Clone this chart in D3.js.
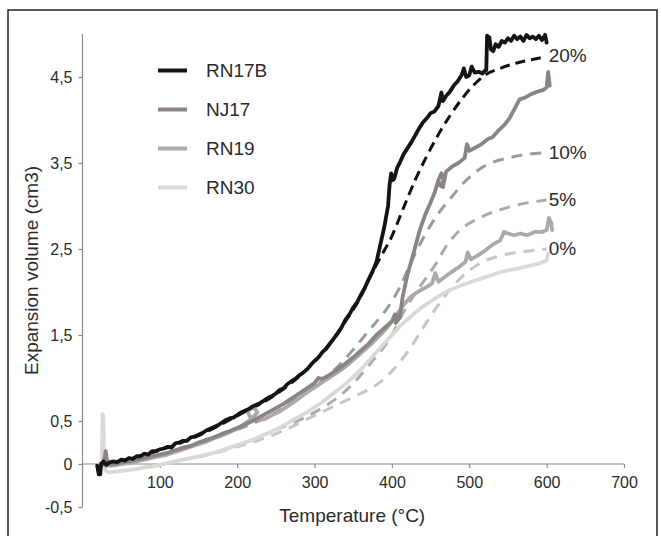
<!DOCTYPE html>
<html>
<head>
<meta charset="utf-8">
<script src="https://cdn.jsdelivr.net/npm/d3@7"></script>
<style>
  html, body { margin: 0; padding: 0; background: #fff; }
  svg { display: block; }
  text { font-family: "Liberation Sans", Arial, sans-serif; fill: #2b2b2b; }
</style>
</head>
<body>
<svg id="chart" width="661" height="536"></svg>
<script>
// ---------- DATA ----------
const seriesNames = ["RN17B", "NJ17", "RN19", "RN30"];
const seriesColors = ["#141414", "#8c8482", "#aea8a6", "#dcd8d4"];

const rn17b = [[19,-0.02],[21,-0.12],[23,-0.12],[24,0.0],[27,0.03],[31,-0.01],[35,0.02],[40,0.03],[45,0.02],[50,0.05],[55,0.04],[60,0.07],[65,0.06],[70,0.09],[75,0.09],[80,0.12],[85,0.11],[90,0.15],[95,0.15],[100,0.17],[105,0.18],[110,0.2],[115,0.19],[120,0.24],[125,0.25],[130,0.27],[135,0.27],[140,0.31],[145,0.32],[150,0.34],[155,0.36],[160,0.39],[165,0.41],[170,0.43],[175,0.45],[180,0.48],[185,0.51],[190,0.53],[195,0.54],[200,0.57],[205,0.6],[210,0.62],[215,0.64],[220,0.67],[225,0.69],[230,0.71],[235,0.74],[240,0.77],[245,0.79],[250,0.82],[255,0.86],[260,0.88],[265,0.93],[270,0.96],[275,0.99],[280,1.03],[285,1.06],[290,1.1],[295,1.15],[300,1.2],[305,1.24],[310,1.3],[315,1.34],[320,1.4],[325,1.46],[330,1.52],[335,1.59],[340,1.68],[345,1.74],[350,1.82],[355,1.88],[360,1.97],[365,2.05],[370,2.15],[375,2.24],[380,2.35],[385,2.55],[390,2.75],[395,3.0],[397,3.25],[399,3.38],[401,3.3],[403,3.32],[407,3.45],[410,3.5],[415,3.6],[420,3.67],[425,3.74],[430,3.82],[435,3.9],[440,3.97],[445,4.02],[450,4.08],[455,4.1],[460,4.16],[464,4.32],[466,4.22],[470,4.28],[475,4.33],[480,4.4],[485,4.45],[490,4.52],[493,4.6],[496,4.5],[500,4.52],[503,4.62],[507,4.55],[512,4.56],[517,4.54],[521,4.58],[522,4.58],[523,4.98],[526,4.96],[528,4.82],[531,4.8],[534,4.88],[538,4.85],[542,4.92],[546,4.9],[550,4.95],[554,4.92],[558,4.98],[562,4.94],[566,4.97],[570,4.92],[574,4.99],[578,4.95],[582,4.97],[586,4.94],[590,4.98],[594,4.93],[598,4.99],[600,4.9]];

const nj17 = [[27,0.0],[30,0.15],[32,0.02],[36,0.0],[40,0.0],[50,0.02],[60,0.03],[70,0.05],[80,0.07],[90,0.09],[100,0.11],[110,0.13],[120,0.16],[130,0.19],[140,0.21],[150,0.25],[160,0.28],[170,0.31],[180,0.35],[190,0.38],[200,0.42],[210,0.46],[220,0.5],[230,0.55],[240,0.6],[250,0.65],[260,0.7],[270,0.76],[280,0.82],[290,0.88],[300,0.94],[305,1.0],[310,0.99],[320,1.04],[330,1.1],[340,1.17],[350,1.24],[360,1.32],[370,1.4],[380,1.5],[390,1.58],[400,1.66],[404,1.74],[408,1.72],[405,1.64],[410,1.7],[414,1.95],[420,2.2],[427,2.42],[436,2.72],[443,2.9],[449,3.02],[455,3.15],[460,3.3],[464,3.38],[467,3.3],[462,3.24],[466,3.22],[470,3.4],[478,3.46],[486,3.5],[494,3.56],[497,3.72],[500,3.64],[508,3.68],[516,3.72],[524,3.78],[530,3.8],[538,3.88],[546,3.95],[552,4.02],[558,4.12],[565,4.24],[572,4.26],[580,4.3],[588,4.33],[596,4.35],[600,4.38],[602,4.56],[604,4.4]];

const rn19 = [[24,0.0],[30,-0.02],[40,-0.02],[50,0.0],[60,0.01],[70,0.03],[80,0.05],[90,0.07],[100,0.09],[110,0.11],[120,0.14],[130,0.17],[140,0.2],[150,0.23],[160,0.26],[170,0.3],[180,0.33],[190,0.37],[200,0.41],[210,0.47],[218,0.52],[226,0.6],[222,0.66],[213,0.62],[217,0.54],[226,0.52],[235,0.52],[245,0.57],[255,0.61],[265,0.67],[275,0.73],[285,0.8],[295,0.86],[305,0.92],[315,0.98],[325,1.04],[335,1.1],[345,1.17],[355,1.25],[365,1.33],[375,1.41],[385,1.5],[395,1.6],[405,1.72],[415,1.85],[425,1.95],[435,2.01],[445,2.06],[452,2.1],[456,2.22],[460,2.12],[466,2.16],[475,2.22],[485,2.28],[495,2.35],[498,2.46],[502,2.38],[510,2.42],[520,2.48],[530,2.55],[540,2.6],[545,2.7],[550,2.68],[558,2.66],[566,2.68],[575,2.66],[585,2.7],[595,2.7],[600,2.72],[603,2.86],[606,2.8],[607,2.72]];

const rn30 = [[22,0.0],[25,0.05],[26,0.58],[27,0.56],[28,0.0],[30,-0.08],[35,-0.1],[40,-0.09],[50,-0.08],[60,-0.07],[70,-0.06],[80,-0.04],[90,-0.03],[100,-0.01],[110,0.01],[120,0.03],[130,0.05],[140,0.07],[150,0.09],[160,0.11],[170,0.13],[180,0.16],[190,0.19],[200,0.22],[210,0.25],[220,0.28],[230,0.32],[240,0.36],[250,0.4],[260,0.45],[270,0.5],[280,0.55],[290,0.6],[300,0.66],[310,0.72],[320,0.79],[330,0.86],[340,0.93],[350,1.01],[360,1.1],[370,1.2],[380,1.3],[390,1.4],[400,1.5],[410,1.6],[420,1.68],[430,1.76],[440,1.83],[450,1.89],[460,1.95],[470,2.0],[480,2.04],[490,2.08],[500,2.11],[510,2.14],[520,2.17],[530,2.2],[540,2.23],[550,2.25],[560,2.27],[570,2.29],[580,2.31],[590,2.33],[600,2.37],[602,2.45]];

const modelNames = ["20%", "10%", "5%", "0%"];
const modelColors = ["#111111", "#9a9a9a", "#ababab", "#c6c6c6"];
const model20 = [[25,0.0],[50,0.04],[100,0.16],[150,0.33],[200,0.56],[250,0.81],[300,1.19],[340,1.66],[360,1.95],[372,2.18],[385,2.4],[400,2.65],[415,2.98],[430,3.3],[445,3.58],[460,3.83],[475,4.05],[490,4.24],[505,4.4],[520,4.52],[540,4.6],[560,4.66],[580,4.7],[600,4.74]];
const model10 = [[200,0.4],[250,0.6],[280,0.78],[300,0.9],[332,1.15],[350,1.33],[371,1.56],[393,1.8],[410,2.05],[425,2.35],[440,2.62],[459,2.9],[475,3.08],[496,3.3],[517,3.45],[556,3.57],[600,3.62]];
const model5 = [[250,0.4],[300,0.6],[340,0.85],[375,1.2],[400,1.5],[414,1.75],[436,2.06],[457,2.33],[470,2.53],[488,2.72],[513,2.86],[552,2.99],[600,3.07]];
const model0 = [[150,0.08],[200,0.2],[250,0.35],[290,0.52],[320,0.65],[350,0.78],[380,0.92],[400,1.08],[420,1.3],[440,1.58],[460,1.85],[480,2.08],[500,2.25],[520,2.36],[540,2.42],[560,2.46],[580,2.48],[600,2.5]];

const xTicks = [100, 200, 300, 400, 500, 600, 700];
const yTicks = [-0.5, 0, 0.5, 1.5, 2.5, 3.5, 4.5];
const yTickLabels = ["-0,5", "0", "0,5", "1,5", "2,5", "3,5", "4,5"];
const xTitle = "Temperature (°C)";
const yTitle = "Expansion volume (cm3)";

// ---------- DRAW ----------
const svg = d3.select("#chart");
const x = d3.scaleLinear().domain([0, 700]).range([82.5, 624]);
const y = d3.scaleLinear().domain([-0.5, 5.0]).range([507, 34]);

// frame
svg.append("rect").attr("x", 8).attr("y", 10).attr("width", 649).attr("height", 540)
  .attr("fill", "none").attr("stroke", "#222").attr("stroke-width", 1.5);

// axes
const xAxis = svg.append("g").attr("transform", `translate(0,${y(0)})`)
  .call(d3.axisBottom(x).tickValues(xTicks).tickSize(4).tickSizeOuter(0).tickPadding(9));
xAxis.select(".domain").attr("d", `M${x(0)},0H${x(700)}`);
const yAxis = svg.append("g").attr("transform", `translate(${x(0)},0)`)
  .call(d3.axisLeft(y).tickValues(yTicks).tickSize(4).tickSizeOuter(0).tickPadding(6)
    .tickFormat((d, i) => yTickLabels[i]));
yAxis.select(".domain").attr("d", `M0,${y(5.0)}V${y(-0.5)}`);
svg.selectAll(".domain, .tick line").attr("stroke", "#8a8a8a").attr("stroke-width", 1.2);
svg.selectAll(".tick text").attr("font-size", 16).attr("fill", "#2b2b2b")
  .attr("font-family", '"Liberation Sans", Arial, sans-serif');

// titles
svg.append("text").attr("x", x(350) - 1).attr("y", 522).attr("text-anchor", "middle")
  .attr("font-size", 19).text(xTitle);
svg.append("text").attr("transform", `translate(38,${y(2.25)}) rotate(-90)`)
  .attr("text-anchor", "middle").attr("font-size", 19).text(yTitle);

const line = d3.line().x(d => x(d[0])).y(d => y(d[1])).curve(d3.curveLinear);
const smooth = d3.line().x(d => x(d[0])).y(d => y(d[1])).curve(d3.curveMonotoneX);

// model dashed curves
const models = [model20, model10, model5, model0];
models.forEach((m, i) => {
  svg.append("path").datum(m).attr("d", smooth).attr("fill", "none")
    .attr("stroke", modelColors[i]).attr("stroke-width", 3)
    .attr("stroke-dasharray", i === 0 ? "10,6" : "11,8");
  const last = m[m.length - 1];
  svg.append("text").attr("x", x(last[0]) + 2).attr("y", y(last[1]) + 1)
    .attr("dominant-baseline", "middle").attr("font-size", 19).text(modelNames[i]);
});

// data curves (lightest first)
const series = [rn17b, nj17, rn19, rn30];
[3, 2, 1, 0].forEach(i => {
  svg.append("path").datum(series[i]).attr("d", line).attr("fill", "none")
    .attr("stroke", seriesColors[i]).attr("stroke-width", 3.8)
    .attr("stroke-linejoin", "round").attr("stroke-linecap", "round");
});

// legend
seriesNames.forEach((name, i) => {
  const ly = 70.5 + i * 39;
  svg.append("line").attr("x1", 158).attr("x2", 187).attr("y1", ly).attr("y2", ly)
    .attr("stroke", seriesColors[i]).attr("stroke-width", 4);
  svg.append("text").attr("x", 206).attr("y", ly + 1).attr("dominant-baseline", "middle")
    .attr("font-size", 19).text(name);
});
</script>
</body>
</html>
